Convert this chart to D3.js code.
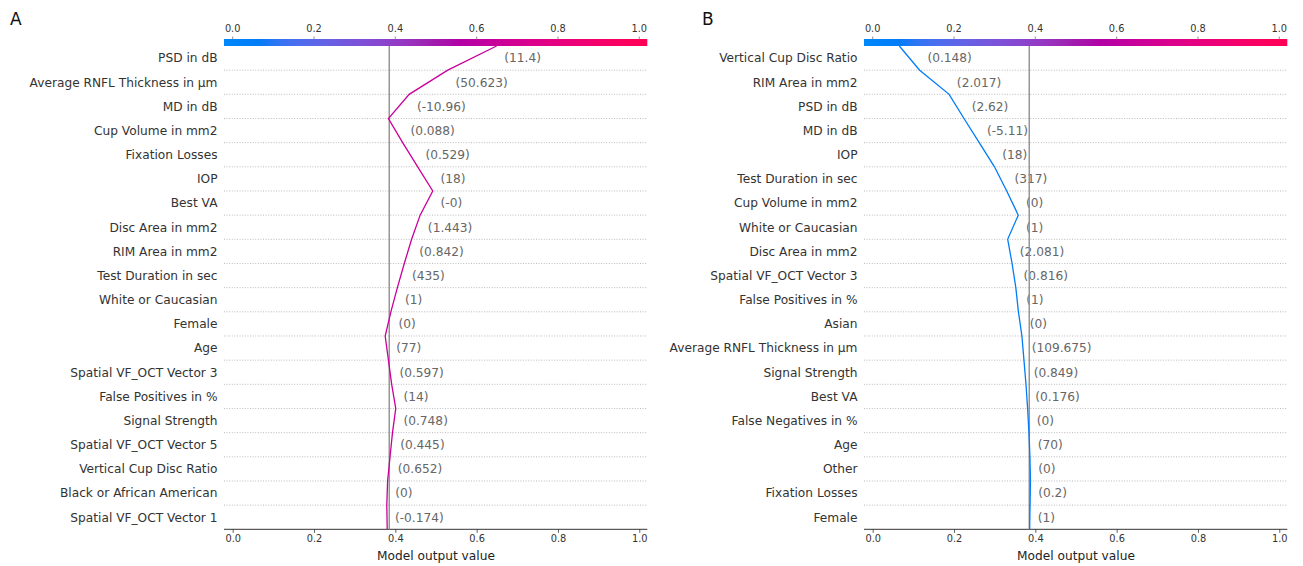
<!DOCTYPE html>
<html>
<head>
<meta charset="utf-8">
<script src="https://cdn.jsdelivr.net/npm/d3@7"></script>
<style>
  html, body { margin: 0; padding: 0; background: #ffffff; }
  svg { display: block; font-family: "DejaVu Sans", sans-serif; }
</style>
</head>
<body>
<svg id="chart" width="1303" height="566"></svg>
<script>
// ---------------- DATA ----------------
// Panel A: features listed top to bottom
const featuresA = ["PSD in dB", "Average RNFL Thickness in µm", "MD in dB", "Cup Volume in mm2",
  "Fixation Losses", "IOP", "Best VA", "Disc Area in mm2", "RIM Area in mm2", "Test Duration in sec",
  "White or Caucasian", "Female", "Age", "Spatial VF_OCT Vector 3", "False Positives in %",
  "Signal Strength", "Spatial VF_OCT Vector 5", "Vertical Cup Disc Ratio", "Black or African American",
  "Spatial VF_OCT Vector 1"];
const valuesA = ["(11.4)", "(50.623)", "(-10.96)", "(0.088)", "(0.529)", "(18)", "(-0)", "(1.443)",
  "(0.842)", "(435)", "(1)", "(0)", "(77)", "(0.597)", "(14)", "(0.748)", "(0.445)", "(0.652)",
  "(0)", "(-0.174)"];
// model output after each feature, from the top (final output) down to the bottom start
const outputA = [0.649, 0.529, 0.434, 0.383, 0.418, 0.455, 0.492, 0.461, 0.440, 0.422, 0.405,
  0.389, 0.375, 0.383, 0.391, 0.401, 0.393, 0.387, 0.381, 0.379, 0.380];

// Panel B
const featuresB = ["Vertical Cup Disc Ratio", "RIM Area in mm2", "PSD in dB", "MD in dB", "IOP",
  "Test Duration in sec", "Cup Volume in mm2", "White or Caucasian", "Disc Area in mm2",
  "Spatial VF_OCT Vector 3", "False Positives in %", "Asian", "Average RNFL Thickness in µm",
  "Signal Strength", "Best VA", "False Negatives in %", "Age", "Other", "Fixation Losses", "Female"];
const valuesB = ["(0.148)", "(2.017)", "(2.62)", "(-5.11)", "(18)", "(317)", "(0)", "(1)", "(2.081)",
  "(0.816)", "(1)", "(0)", "(109.675)", "(0.849)", "(0.176)", "(0)", "(70)", "(0)", "(0.2)", "(1)"];
const outputB = [0.0655, 0.1155, 0.188, 0.2245, 0.262, 0.2995, 0.3297, 0.358, 0.332, 0.3428,
  0.352, 0.3584, 0.367, 0.372, 0.377, 0.381, 0.3843, 0.3867, 0.388, 0.387, 0.386];

const baseValue = 0.385;
const tickValues = [0.0, 0.2, 0.4, 0.6, 0.8, 1.0];
const xDomain = [-0.0214, 1.0197];
const panelLetters = ["A", "B"];
const axisTitle = "Model output value";

// ---------------- LAYOUT ----------------
const svg = d3.select("#chart");
const FS = 12.2;
const yTop = 46, yBottom = 529.3;
const panels = [
  { letter: panelLetters[0], x0: 224, x1: 647.3, features: featuresA, values: valuesA, output: outputA, lx: 10, gid: "gA" },
  { letter: panelLetters[1], x0: 864, x1: 1287.3, features: featuresB, values: valuesB, output: outputB, lx: 702, gid: "gB" }
];

// SHAP red_blue colormap (Lch interpolation)
function redBlue(t) {
  t = Math.max(0, Math.min(1, t));
  const L = t < 0.5 ? 54 + (40 - 54) * (t / 0.5) : 40 + (54 - 40) * ((t - 0.5) / 0.5);
  const C = 70 + (90 - 70) * t;
  const H = 266.93 + (380.32 - 266.93) * t;
  return d3.hcl(H % 360, C, L).formatHex();
}

const defs = svg.append("defs");

panels.forEach(p => {
  const n = p.features.length;
  const x = d3.scaleLinear().domain(xDomain).range([p.x0, p.x1]);
  const y = d3.scaleLinear().domain([0, n]).range([yBottom, yTop]);
  const g = svg.append("g");

  // panel letter
  g.append("text").attr("x", p.lx).attr("y", 25).attr("font-size", 17).attr("fill", "#111").text(p.letter);

  // colorbar gradient
  const grad = defs.append("linearGradient").attr("id", p.gid).attr("x1", "0%").attr("x2", "100%");
  d3.range(0, 1.0001, 0.02).forEach(t => {
    grad.append("stop").attr("offset", (t * 100) + "%").attr("stop-color", redBlue(t));
  });
  g.append("rect").attr("x", p.x0).attr("y", 39).attr("width", p.x1 - p.x0).attr("height", yTop - 39)
    .attr("fill", `url(#${p.gid})`);

  // colorbar ticks + labels (top)
  tickValues.forEach(v => {
    g.append("line").attr("x1", x(v)).attr("x2", x(v)).attr("y1", 36.5).attr("y2", 39.5)
      .attr("stroke", "#777").attr("stroke-width", 0.8);
    g.append("text").attr("x", x(v)).attr("y", 32).attr("text-anchor", "middle")
      .attr("font-size", 9.8).attr("fill", "#333").text(d3.format(".1f")(v));
  });

  // dotted grid lines
  d3.range(1, n).forEach(i => {
    g.append("line").attr("x1", p.x0).attr("x2", p.x1).attr("y1", y(i)).attr("y2", y(i))
      .attr("stroke", "#aaaaaa").attr("stroke-width", 0.8).attr("stroke-dasharray", "1,1.6");
  });

  // bottom axis
  const axis = d3.axisBottom(x).tickValues(tickValues).tickFormat(d3.format(".1f")).tickSize(3.5).tickSizeOuter(0);
  const ax = g.append("g").attr("transform", `translate(0,${yBottom})`).call(axis);
  ax.select(".domain").attr("stroke", "#333").attr("stroke-width", 1)
    .attr("d", `M${p.x0},0H${p.x1}`);
  ax.selectAll(".tick line").attr("stroke", "#333").attr("stroke-width", 0.8);
  ax.selectAll(".tick text").attr("font-size", 9.8).attr("fill", "#333").attr("font-family", "DejaVu Sans")
    .attr("y", 6).attr("dy", "0.71em");
  g.append("text").attr("x", (x(0) + x(1)) / 2).attr("y", 560).attr("text-anchor", "middle")
    .attr("font-size", FS).attr("fill", "#222").text(axisTitle);

  // feature labels (rows from top)
  p.features.forEach((f, i) => {
    const yc = (y(n - i) + y(n - i - 1)) / 2;
    g.append("text").attr("x", p.x0 - 6.5).attr("y", yc).attr("dy", "0.36em")
      .attr("text-anchor", "end").attr("font-size", FS).attr("fill", "#333").text(f);
  });

  // feature value texts, at max of row end points
  p.values.forEach((v, i) => {
    const yc = (y(n - i) + y(n - i - 1)) / 2;
    const xv = Math.max(p.output[i], p.output[i + 1]);
    g.append("text").attr("x", x(xv)).attr("y", yc).attr("dy", "0.36em")
      .attr("font-size", FS).attr("fill", "#666666").attr("xml:space", "preserve")
      .style("white-space", "pre").text("  " + v);
  });

  // base value line
  g.append("line").attr("x1", x(baseValue)).attr("x2", x(baseValue)).attr("y1", yTop).attr("y2", yBottom)
    .attr("stroke", "#8f8f8f").attr("stroke-width", 1.4);

  // decision line
  const pts = p.output.map((v, i) => [x(v), y(n - i)]);
  const color = redBlue((p.output[0] - xDomain[0]) / (xDomain[1] - xDomain[0]));
  g.append("path").attr("d", d3.line()(pts)).attr("fill", "none")
    .attr("stroke", color).attr("stroke-width", 1.3);
});
</script>
</body>
</html>
